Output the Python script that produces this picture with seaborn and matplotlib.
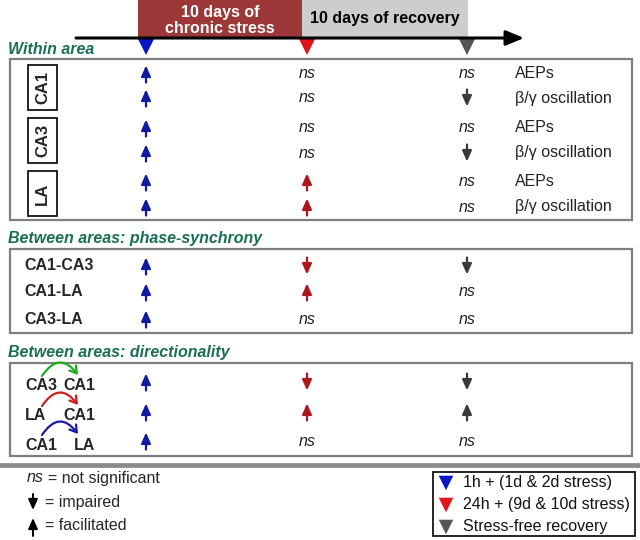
import seaborn as sns
import pandas as pd
import matplotlib.pyplot as plt
from matplotlib.patches import Rectangle

# --- data -------------------------------------------------------------
phases = ['1h', '24h', 'recovery']
within_regions = ['CA1', 'CA3', 'LA']
within_measures = ['AEPs', 'β/γ oscillation']
within_results = [['up', 'ns', 'ns'], ['up', 'ns', 'down'],
                  ['up', 'ns', 'ns'], ['up', 'ns', 'down'],
                  ['up', 'up', 'ns'], ['up', 'up', 'ns']]
sync_pairs = ['CA1-CA3', 'CA1-LA', 'CA3-LA']
sync_results = [['up', 'down', 'down'], ['up', 'up', 'ns'], ['up', 'ns', 'ns']]
dir_sources = ['CA3', 'LA', 'CA1']
dir_targets = ['CA1', 'CA1', 'LA']
dir_results = [['up', 'down', 'down'], ['up', 'up', 'up'], ['up', 'ns', 'ns']]
legend_labels = ['1h + (1d & 2d stress)', '24h + (9d & 10d stress)', 'Stress-free recovery']

# --- style ------------------------------------------------------------
sns.set_theme(style='white')
plt.rcParams['font.family'] = ['Liberation Sans', 'DejaVu Sans']

arrow_col = ['#0f1aa0', '#b0141c', '#3a3a3a']
tri_col = ['#0a14c8', '#e0141e', '#555555']
arc_col = ['#22aa22', '#cc1f1f', '#1a1aa8']
green = '#1b6f52'
col_x = [146, 307, 467]
fs = 11.5

fig = plt.figure(figsize=(6.4, 5.4), dpi=100)
ax = fig.add_axes([0, 0, 1, 1])
ax.set_xlim(0, 640)
ax.set_ylim(540, 0)
ax.axis('off')


def arrow(x, y, d, color, length=17, lw=1.6):
    half = length / 2
    tail, head = ((x, y + half), (x, y - half)) if d == 'up' else ((x, y - half), (x, y + half))
    ax.annotate('', xy=head, xytext=tail,
                arrowprops=dict(arrowstyle='-|>,head_length=0.45,head_width=0.2',
                                mutation_scale=14, lw=lw, color=color,
                                shrinkA=0, shrinkB=0))


def result_row(y, res):
    for j, r in enumerate(res):
        if r == 'ns':
            ax.text(col_x[j], y, 'ns', style='italic', fontsize=fs,
                    ha='center', va='center', color='#222222')
        else:
            arrow(col_x[j], y, r, arrow_col[j])


def frame(y0, y1):
    ax.add_patch(Rectangle((10, y0), 622, y1 - y0, fill=False,
                           ec='#7f7f7f', lw=1.6))


# --- timeline header ---------------------------------------------------
ax.add_patch(Rectangle((138, 0), 164, 38, fc='#9d3838', ec='none'))
ax.add_patch(Rectangle((302, 0), 166, 38, fc='#cdcdcd', ec='none'))
ax.text(220, 20.5, '10 days of\nchronic stress', color='white', fontsize=fs,
        fontweight='bold', ha='center', va='center', linespacing=1.1)
ax.text(385, 19, '10 days of recovery', color='black', fontsize=fs,
        fontweight='bold', ha='center', va='center')
ax.annotate('', xy=(524, 38), xytext=(76, 38),
            arrowprops=dict(arrowstyle='-|>,head_length=0.6,head_width=0.25',
                            mutation_scale=18, lw=2.2, color='black',
                            shrinkA=0, shrinkB=0))
tri_df = pd.DataFrame({'x': col_x, 'y': [46.5] * 3, 'phase': phases})
sns.scatterplot(data=tri_df, x='x', y='y', hue='phase', palette=tri_col,
                marker='v', s=150, linewidth=0, legend=False, ax=ax)

# --- within area --------------------------------------------------------
ax.text(8, 50, 'Within area', color=green, fontsize=fs, fontweight='bold',
        style='italic', ha='left', va='center')
frame(59, 220)
within_y = [74, 98, 128, 153, 182, 207]
for i, region in enumerate(within_regions):
    top = 65 + i * 53
    ax.add_patch(Rectangle((28, top), 29, 45, fill=False, ec='black', lw=1.2))
    ax.text(42.5, top + 22.5, region, rotation=90, fontsize=12, fontweight='bold',
            ha='center', va='center')
for i, res in enumerate(within_results):
    result_row(within_y[i], res)
    ax.text(515, within_y[i], within_measures[i % 2], fontsize=fs,
            ha='left', va='center', color='#222222')

# --- phase synchrony ----------------------------------------------------
ax.text(8, 239, 'Between areas: phase-synchrony', color=green, fontsize=fs,
        fontweight='bold', style='italic', ha='left', va='center')
frame(249, 333)
sync_y = [266, 292, 319]
for i, pair in enumerate(sync_pairs):
    ax.text(24, sync_y[i], pair, fontsize=fs, fontweight='bold',
            ha='left', va='center')
    result_row(sync_y[i], sync_results[i])

# --- directionality -----------------------------------------------------
ax.text(8, 353, 'Between areas: directionality', color=green, fontsize=fs,
        fontweight='bold', style='italic', ha='left', va='center')
frame(363, 456)
dir_y = [382, 412, 441]
for i in range(3):
    y = dir_y[i]
    ax.text(25, y + 4, dir_sources[i], fontsize=fs, fontweight='bold',
            ha='left', va='center')
    ax.text(95, y + 4, dir_targets[i], fontsize=fs, fontweight='bold',
            ha='right', va='center')
    ax.annotate('', xy=(78, y - 7), xytext=(42, y - 6),
                arrowprops=dict(arrowstyle='->,head_length=0.4,head_width=0.25',
                                connectionstyle='arc3,rad=-0.7',
                                mutation_scale=12, lw=1.6, color=arc_col[i],
                                shrinkA=0, shrinkB=0))
    result_row(y, dir_results[i])

# --- separator & legends ------------------------------------------------
ax.axhline(465, color='#8a8a8a', lw=3.4)

ax.text(27, 478, 'ns', style='italic', fontsize=fs, ha='left', va='center')
ax.text(48, 478, '= not significant', fontsize=fs, ha='left', va='center')
arrow(33, 502, 'down', 'black', length=16, lw=1.4)
ax.text(45, 502, '= impaired', fontsize=fs, ha='left', va='center')
arrow(33, 527, 'up', 'black', length=18, lw=1.4)
ax.text(45, 525, '= facilitated', fontsize=fs, ha='left', va='center')

ax.add_patch(Rectangle((433, 472), 202, 64, fill=False, ec='black', lw=1.2))
leg_y = [483, 505, 527]
leg_df = pd.DataFrame({'x': [446] * 3, 'y': leg_y, 'phase': phases})
sns.scatterplot(data=leg_df, x='x', y='y', hue='phase', palette=tri_col,
                marker='v', s=110, linewidth=0, legend=False, ax=ax)
for i, lab in enumerate(legend_labels):
    ax.text(463, leg_y[i], lab, fontsize=fs, ha='left', va='center',
            color='#111111')

ax.set_xlabel('')
ax.set_ylabel('')
fig.savefig('out.png', dpi=100)
